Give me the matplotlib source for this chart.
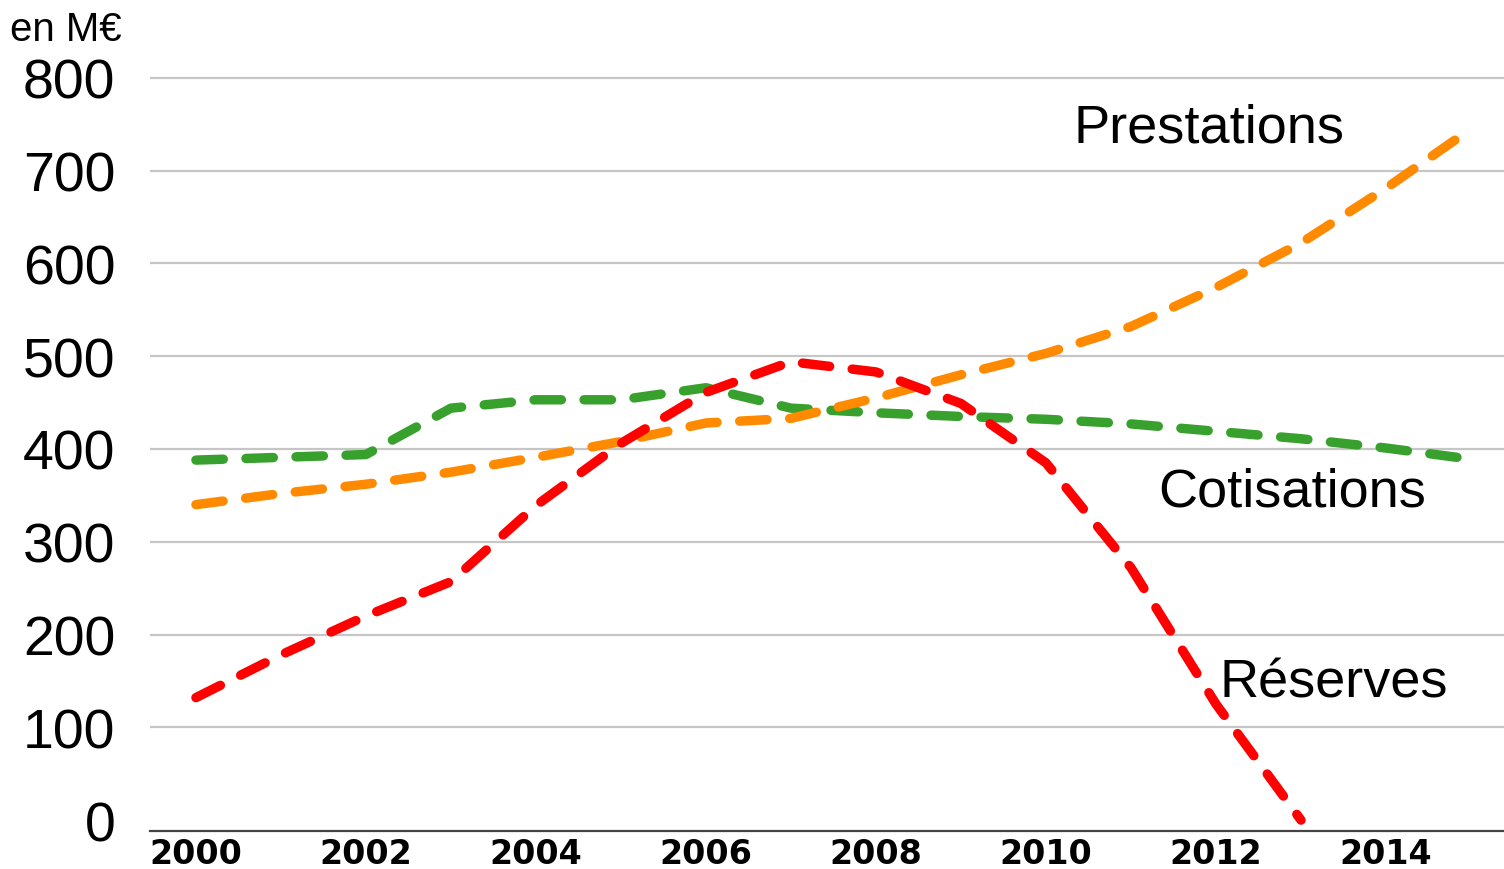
import matplotlib
matplotlib.use("Agg")
import matplotlib.pyplot as plt

plt.rcParams['font.family'] = ['Liberation Sans', 'DejaVu Sans']

# data (en M€)
years = list(range(2000, 2016))
cotisations = [388, 391, 394, 444, 453, 453, 466, 444, 439, 435, 432, 427, 419, 411, 401, 389]
prestations = [340, 352, 362, 375, 391, 408, 428, 433, 455, 480, 503, 532, 574, 622, 681, 745]
reserves_years = list(range(2000, 2014))
reserves = [132, 178, 220, 257, 339, 406, 461, 494, 483, 449, 385, 272, 125, 0]

yticks = [0, 100, 200, 300, 400, 500, 600, 700, 800]
xticks = [2000, 2002, 2004, 2006, 2008, 2010, 2012, 2014]

c_green = '#38a02c'
c_orange = '#ff8a00'
c_red = '#ff0000'

fig = plt.figure(figsize=(15.04, 8.7), dpi=100)
ax = fig.add_axes([0.0997, 0.0434, 0.9003, 0.8788])

# gridlines (no line at 0, the x axis sits just below)
ax.hlines(yticks[1:], 1999.459, 2015.388, colors='#c6c6c6', linewidth=1.6, zorder=1)

lw = 6.8
dash = (2.9, 2.4)
for x, y, c in [(years, cotisations, c_green),
                (years, prestations, c_orange),
                (reserves_years, reserves, c_red)]:
    line, = ax.plot(x, y, color=c, linewidth=lw, linestyle='--',
                    dash_capstyle='round', solid_joinstyle='round', zorder=3)
    line.set_dashes(dash)

ax.set_xlim(1999.459, 2015.388)
ax.set_ylim(-12, 812)

for s in ['top', 'right', 'left']:
    ax.spines[s].set_visible(False)
ax.spines['bottom'].set_color('#444444')
ax.spines['bottom'].set_linewidth(1.6)

ax.set_yticks(yticks)
ax.set_yticklabels([str(v) for v in yticks], fontsize=40)
ax.set_xticks(xticks)
ax.set_xticklabels([str(v) for v in xticks], fontsize=24, fontweight='bold',
                   family='DejaVu Sans')
ax.tick_params(axis='y', length=0, pad=25)
ax.tick_params(axis='x', length=0, pad=4)

fig.text(0.0066, 0.965, 'en M€', fontsize=29, ha='left', va='center')

ax.text(2011.92, 746, 'Prestations', fontsize=39, ha='center', va='center')
ax.text(2012.9, 354, 'Cotisations', fontsize=39, ha='center', va='center')
ax.text(2013.38, 148, 'Réserves', fontsize=39, ha='center', va='center')

fig.savefig('out.png', dpi=100, facecolor='white')
